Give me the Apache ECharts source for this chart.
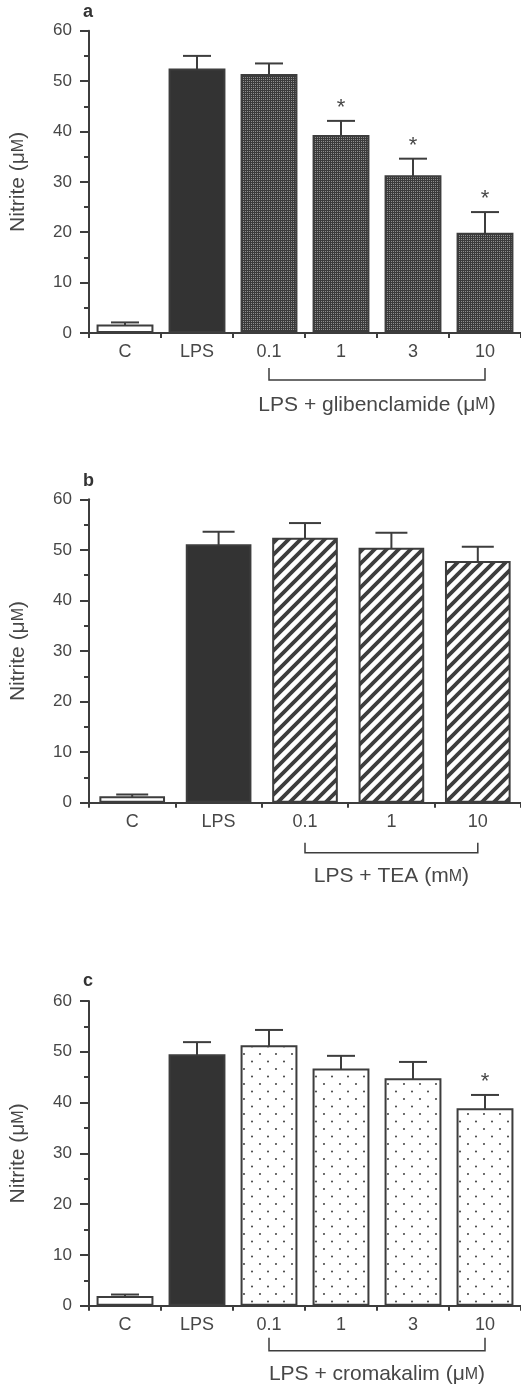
<!DOCTYPE html>
<html>
<head>
<meta charset="utf-8">
<script src="https://cdn.jsdelivr.net/npm/echarts@6/dist/echarts.min.js"></script>
<style>html,body{margin:0;padding:0;background:#fff;}#chart{width:521px;height:1385px;}</style>
</head>
<body>
<div id="chart"></div>
<script>
// ---------------- data ----------------
const catsA = ['C', 'LPS', '0.1', '1', '3', '10'];
const valsA = [1.7, 52.5, 51.4, 39.3, 31.3, 19.9];
const errsA = [0.4, 2.5, 2.1, 2.8, 3.3, 4.1];
const sigA  = [0, 0, 0, 1, 1, 1];

const catsB = ['C', 'LPS', '0.1', '1', '10'];
const valsB = [1.3, 51.1, 52.4, 50.4, 47.8];
const errsB = [0.3, 2.5, 2.9, 3.0, 2.8];
const sigB  = [0, 0, 0, 0, 0];

const catsC = ['C', 'LPS', '0.1', '1', '3', '10'];
const valsC = [1.9, 49.5, 51.3, 46.7, 44.8, 38.9];
const errsC = [0.3, 2.4, 3.0, 2.5, 3.2, 2.6];
const sigC  = [0, 0, 0, 0, 0, 1];

const yMin = 0, yMax = 60, yStep = 10;
const yName = 'Nitrite (μ{sc|M})';
const bracketA = 'LPS + glibenclamide (μ{sc|M})';
const bracketB = 'LPS + TEA (m{sc|M})';
const bracketC = 'LPS + cromakalim (μ{sc|M})';
const panelLetters = ['a', 'b', 'c'];

// ---------------- styles ----------------
const INK = '#3d3d3d';
const TXT = '#474747';
const FONT = '"Liberation Sans", Arial, Helvetica, sans-serif';

function checker() {
  const c = document.createElement('canvas'); c.width = 2; c.height = 2;
  const g = c.getContext('2d');
  g.fillStyle = '#3a3a3a'; g.fillRect(0, 0, 2, 2);
  g.fillStyle = '#8e8e8e'; g.fillRect(1, 1, 1, 1);
  return c;
}
function hatch() {
  const s = 12;
  const c = document.createElement('canvas'); c.width = s; c.height = s;
  const g = c.getContext('2d');
  g.fillStyle = '#ffffff'; g.fillRect(0, 0, s, s);
  g.strokeStyle = '#3d3d3d'; g.lineWidth = 3.8;
  g.beginPath();
  g.moveTo(0, s); g.lineTo(s, 0);
  g.moveTo(-2, 2); g.lineTo(2, -2);
  g.moveTo(s - 2, s + 2); g.lineTo(s + 2, s - 2);
  g.stroke();
  return c;
}
function dots() {
  const w = 16, h = 15;
  const c = document.createElement('canvas'); c.width = w; c.height = h;
  const g = c.getContext('2d');
  g.fillStyle = '#ffffff'; g.fillRect(0, 0, w, h);
  g.fillStyle = '#4a4a4a';
  g.beginPath(); g.arc(4, 4, 1.05, 0, Math.PI * 2); g.fill();
  g.beginPath(); g.arc(12, 11.5, 1.05, 0, Math.PI * 2); g.fill();
  return c;
}
const patA = { image: checker(), repeat: 'repeat' };
const patB = { image: hatch(), repeat: 'repeat' };
const patC = { image: dots(), repeat: 'repeat' };

const panels = [
  { cats: catsA, vals: valsA, errs: errsA, sig: sigA, pat: patA, label: bracketA,
    top: 30.7, height: 302.3, gap: '21%', cap: 14, br: [35, 47], brText: 72, letterY: 13 },
  { cats: catsB, vals: valsB, errs: errsB, sig: sigB, pat: patB, label: bracketB,
    top: 499.3, height: 303.4, gap: '24%', cap: 16, br: [40, 50], brText: 74, letterY: 482 },
  { cats: catsC, vals: valsC, errs: errsC, sig: sigC, pat: patC, label: bracketC,
    top: 1001, height: 304.7, gap: '21%', cap: 14, br: [32, 45], brText: 69, letterY: 982 }
];

const grid = [], xAxis = [], yAxis = [], series = [], graphic = [];
panels.forEach((p, i) => {
  grid.push({ left: 89, top: p.top, width: 434, height: p.height, containLabel: false });
  xAxis.push({
    type: 'category', gridIndex: i, data: p.cats,
    axisLine: { lineStyle: { color: INK, width: 2 } },
    axisTick: { show: true, length: 5, lineStyle: { color: INK, width: 2 } },
    axisLabel: { color: TXT, fontSize: 18, fontFamily: FONT, margin: 10 },
    splitLine: { show: false }
  });
  yAxis.push({
    type: 'value', gridIndex: i, min: yMin, max: yMax, interval: yStep,
    name: yName, nameLocation: 'middle', nameGap: 60,
    nameTextStyle: { color: TXT, fontSize: 21, fontFamily: FONT,
      rich: { sc: { fontSize: 16, color: TXT, fontFamily: FONT } } },
    axisLine: { show: true, lineStyle: { color: INK, width: 2 } },
    axisTick: { show: true, length: 9, lineStyle: { color: INK, width: 2 } },
    minorTick: { show: true, splitNumber: 2, length: 5, lineStyle: { color: INK, width: 2 } },
    axisLabel: { color: TXT, fontSize: 17, fontFamily: FONT, margin: 17 },
    splitLine: { show: false }
  });
  const barData = p.vals.map((v, k) => ({
    value: v,
    itemStyle: {
      color: k === 0 ? '#ffffff' : (k === 1 ? '#333333' : p.pat),
      borderColor: INK, borderWidth: 2
    }
  }));
  series.push({
    type: 'bar', xAxisIndex: i, yAxisIndex: i, data: barData,
    barCategoryGap: p.gap, animation: false, silent: true
  });
  const errData = p.vals.map((v, k) => [k, v, p.errs[k], p.sig[k]]);
  const cap = p.cap;
  series.push({
    type: 'custom', xAxisIndex: i, yAxisIndex: i, data: errData, animation: false,
    silent: true, clip: false, z: 5,
    encode: { x: 0, y: 1 },
    renderItem: function (params, api) {
      const x = api.value(0), v = api.value(1), e = api.value(2), s = api.value(3);
      const a = api.coord([x, v]);
      const b = api.coord([x, v + e]);
      const st = { stroke: INK, lineWidth: 2 };
      const ch = [
        { type: 'line', shape: { x1: a[0], y1: a[1] + 1, x2: b[0], y2: b[1] }, style: st },
        { type: 'line', shape: { x1: b[0] - cap, y1: b[1], x2: b[0] + cap, y2: b[1] }, style: st }
      ];
      if (s) {
        ch.push({ type: 'text', style: { text: '*', x: b[0], y: b[1] - 13,
          align: 'center', verticalAlign: 'middle', fill: TXT, fontSize: 22, fontFamily: FONT } });
      }
      return { type: 'group', children: ch };
    }
  });
  const last = p.cats.length - 1;
  const br = p.br, brText = p.brText, lab = p.label;
  series.push({
    type: 'custom', xAxisIndex: i, yAxisIndex: i, data: [[2, 0, last]], animation: false,
    silent: true, clip: false, z: 5,
    encode: { x: 0, y: 1 },
    renderItem: function (params, api) {
      const x1 = api.coord([api.value(0), 0]);
      const x2 = api.coord([api.value(2), 0]);
      const y0 = x1[1];
      const st = { stroke: INK, lineWidth: 1.5, fill: 'none' };
      return { type: 'group', children: [
        { type: 'polyline', shape: { points: [[x1[0], y0 + br[0]], [x1[0], y0 + br[1]], [x2[0], y0 + br[1]], [x2[0], y0 + br[0]]] }, style: st },
        { type: 'text', style: { text: lab, x: (x1[0] + x2[0]) / 2, y: y0 + brText,
          align: 'center', verticalAlign: 'middle', fill: TXT, fontSize: 21, fontFamily: FONT,
          rich: { sc: { fontSize: 16, fill: TXT, fontFamily: FONT } } } }
      ] };
    }
  });
  graphic.push({ type: 'text', left: 83, top: p.letterY - 10, silent: true,
    style: { text: panelLetters[i], fill: '#333', fontSize: 18, fontWeight: 'bold', fontFamily: FONT } });
});

const chart = echarts.init(document.getElementById('chart'), null, { renderer: 'canvas' });
chart.setOption({ backgroundColor: '#ffffff', animation: false, grid, xAxis, yAxis, series, graphic });
</script>
</body>
</html>
